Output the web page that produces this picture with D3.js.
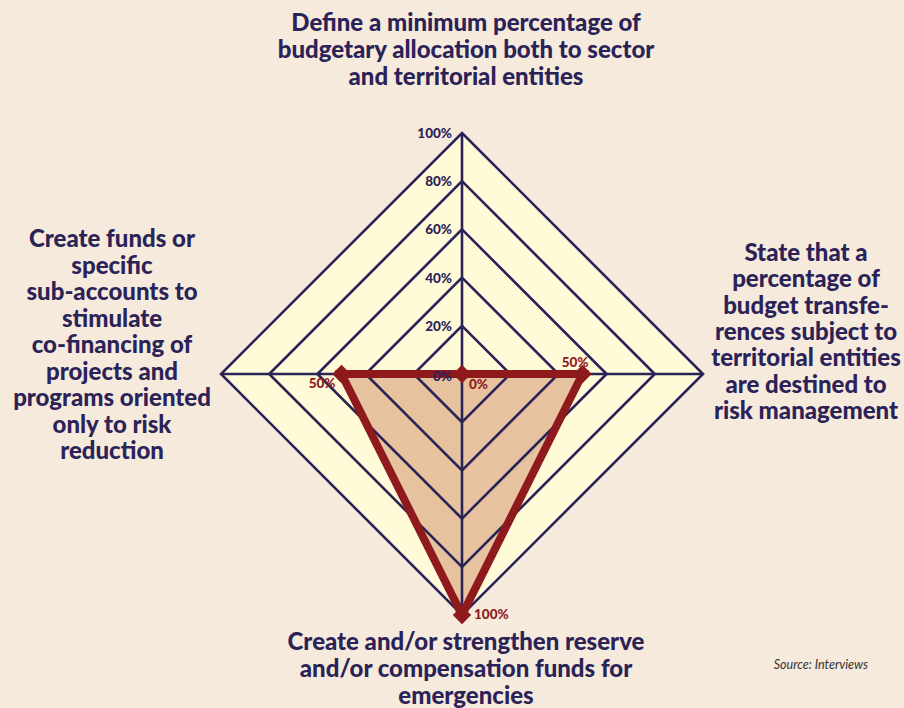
<!DOCTYPE html>
<html>
<head>
<meta charset="utf-8">
<script src="https://cdn.jsdelivr.net/npm/d3@7"></script>
<style>
  body { margin: 0; background: #F6EADC; }
  svg { display: block; }
  .lbl { font-family: Lato, "Open Sans", sans-serif; font-weight: 900; fill: #2B2358; font-size: 24px; }
  .tick { font-family: Lato, sans-serif; font-weight: 900; fill: #2B2358; font-size: 13.5px; }
  .val { font-family: Lato, sans-serif; font-weight: 900; fill: #8E1A1E; font-size: 13.5px; }
</style>
</head>
<body>
<script>
var axes = ["top", "right", "bottom", "left"];
var values = [0, 50, 100, 50];
var levels = [20, 40, 60, 80, 100];
var tickLabels = ["0%", "20%", "40%", "60%", "80%", "100%"];

var topLabel = ["Define a minimum percentage of", "budgetary allocation both to sector", "and territorial entities"];
var rightLabel = ["State that a", "percentage of", "budget transfe-", "rences subject to", "territorial entities", "are destined to", "risk management"];
var bottomLabel = ["Create and/or strengthen reserve", "and/or compensation funds for", "emergencies"];
var leftLabel = ["Create funds or", "specific", "sub-accounts to", "stimulate", "co-financing of", "projects and", "programs oriented", "only to risk", "reduction"];

var width = 904, height = 708,
  cx = 462, cy = 374,
  radius = 241,
  navy = "#2B2358",
  red = "#8E1A1E";

var svg = d3.select("body").append("svg")
  .attr("width", width).attr("height", height);

svg.append("rect").attr("width", width).attr("height", height).attr("fill", "#F6EADC");

var r = d3.scaleLinear().domain([0, 100]).range([0, radius]);
var angle = d3.scaleBand().domain(axes).range([0, 2 * Math.PI]).align(0).paddingInner(0).paddingOuter(0);

// x, y of a value on one axis
var pt = function(axis, v) {
  var a = angle(axis);
  return [cx + r(v) * Math.sin(a), cy - r(v) * Math.cos(a)];
};

var g = svg.append("g");

// outer filled diamond
g.append("polygon")
  .attr("points", axes.map(function(a) { return pt(a, 100).join(","); }).join(" "))
  .attr("fill", "#FFFBD8");

// data area under the grid
var poly = axes.map(function(a, i) { return pt(a, values[i]); });
g.append("polygon")
  .attr("points", poly.map(function(p) { return p.join(","); }).join(" "))
  .attr("fill", "#E6C39E");

// grid levels
g.selectAll(".level").data(levels).enter()
  .append("polygon")
  .attr("class", "level")
  .attr("points", function(l) { return axes.map(function(a) { return pt(a, l).join(","); }).join(" "); })
  .attr("fill", "none")
  .attr("stroke", navy)
  .attr("stroke-width", 2.6)
  .attr("stroke-linejoin", "miter");

g.selectAll(".spoke").data(axes).enter()
  .append("line")
  .attr("x1", cx).attr("y1", cy)
  .attr("x2", function(a) { return pt(a, 100)[0]; })
  .attr("y2", function(a) { return pt(a, 100)[1]; })
  .attr("stroke", navy)
  .attr("stroke-width", 2.6);

// data line
g.append("polygon")
  .attr("points", poly.map(function(p) { return p.join(","); }).join(" "))
  .attr("fill", "none")
  .attr("stroke", red)
  .attr("stroke-width", 8)
  .attr("stroke-linejoin", "miter");

g.selectAll(".mark").data(poly).enter()
  .append("rect")
  .attr("x", -6.5).attr("y", -6.5)
  .attr("width", 13).attr("height", 13)
  .attr("fill", red)
  .attr("transform", function(p) { return "translate(" + p[0] + "," + p[1] + ") rotate(45)"; });

// tick labels on the top axis (drawn over the line, like the original)
g.selectAll(".tick").data(tickLabels).enter()
  .append("text")
  .attr("class", "tick")
  .attr("x", cx - 10)
  .attr("y", function(d, i) { return cy - r(i * 20) + (i === 0 ? 7 : 5); })
  .attr("text-anchor", "end")
  .text(function(d) { return d; });

// value labels
var valPos = [[7, 15, "start"], [6, -7, "end"], [12, 4, "start"], [-6, 14, "end"]];
g.selectAll(".val").data(values).enter()
  .append("text")
  .attr("class", "val")
  .attr("x", function(v, i) { return poly[i][0] + valPos[i][0]; })
  .attr("y", function(v, i) { return poly[i][1] + valPos[i][1]; })
  .attr("text-anchor", function(v, i) { return valPos[i][2]; })
  .text(function(v) { return v + "%"; });

// axis titles
var block = function(lines, x, y, step) {
  svg.append("text")
    .attr("class", "lbl")
    .attr("text-anchor", "middle")
    .selectAll("tspan").data(lines).enter()
    .append("tspan")
    .attr("x", x)
    .attr("y", function(d, i) { return y + i * step; })
    .text(function(d) { return d; });
};

block(topLabel, 466, 31, 27);
block(rightLabel, 806, 261, 26.3);
block(bottomLabel, 466, 650, 27);
block(leftLabel, 112, 247, 26.5);

svg.append("text")
  .attr("x", 868).attr("y", 669)
  .attr("text-anchor", "end")
  .attr("font-family", "Lato, sans-serif")
  .attr("font-style", "italic")
  .attr("font-size", 12.5)
  .attr("fill", "#333")
  .text("Source: Interviews");
</script>
</body>
</html>
